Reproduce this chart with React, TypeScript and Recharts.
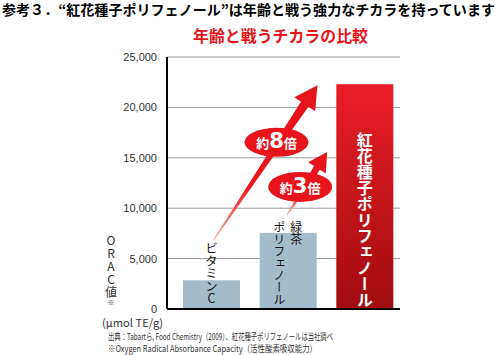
import React from 'react';
import { BarChart, Bar, XAxis, YAxis, CartesianGrid } from 'recharts';

const categories = ['ビタミンC', '緑茶ポリフェノール', '紅花種子ポリフェノール'];
const oracValues = [2850, 7550, 22300];
const yTicks = [0, 5000, 10000, 15000, 20000, 25000];
const ratioLabels = [
  { prefix: '約', num: '8', suffix: '倍' },
  { prefix: '約', num: '3', suffix: '倍' },
];
const titleText = '参考３．“紅花種子ポリフェノール”は年齢と戦う強力なチカラを持っています';
const subtitleText = '年齢と戦うチカラの比較';
const yLabelText = 'ORAC値';
const unitText = '(μmol TE/g)';
const sourceText = '出典：Tabartら, Food Chemistry（2009）、紅花種子ポリフェノールは当社調べ';
const noteText = '※Oxygen Radical Absorbance Capacity（活性酸素吸収能力）';

const data = categories.map((name, i) => ({ name, value: oracValues[i] }));

const JP = '"Noto Sans CJK JP", sans-serif';
const RED = '#e8141c';
const BLUE = '#a3bccb';

function arrowPoints(x0: number, y0: number, x1: number, y1: number, w0: number, w1: number, headLen: number, headHalf: number) {
  const dx = x1 - x0, dy = y1 - y0;
  const L = Math.hypot(dx, dy);
  const ux = dx / L, uy = dy / L;
  const nx = -uy, ny = ux;
  const bx = x1 - ux * headLen, by = y1 - uy * headLen;
  const pts = [
    [x0 + nx * w0, y0 + ny * w0],
    [bx + nx * w1, by + ny * w1],
    [bx + nx * headHalf, by + ny * headHalf],
    [x1, y1],
    [bx - nx * headHalf, by - ny * headHalf],
    [bx - nx * w1, by - ny * w1],
    [x0 - nx * w0, y0 - ny * w0],
  ];
  return pts.map((p) => p.join(',')).join(' ');
}

const Arrow = ({ id, x0, y0, x1, y1, w1, headLen, headHalf }: any) => (
  <g>
    <defs>
      <linearGradient id={id} gradientUnits="userSpaceOnUse" x1={x0} y1={y0} x2={x1} y2={y1}>
        <stop offset="0" stopColor="#f6b3a6" />
        <stop offset="0.35" stopColor={RED} />
        <stop offset="1" stopColor={RED} />
      </linearGradient>
    </defs>
    <polygon points={arrowPoints(x0, y0, x1, y1, 0.5, w1, headLen, headHalf)} fill={`url(#${id})`} />
  </g>
);

const RatioBadge = ({ cx, cy, rx, ry, label }: any) => (
  <g>
    <ellipse cx={cx} cy={cy} rx={rx} ry={ry} fill={RED} />
    <text x={cx} y={cy + 6} textAnchor="middle" fill="#fff" fontWeight="bold" fontFamily={JP}>
      <tspan fontSize={13}>{label.prefix}</tspan>
      <tspan fontSize={21} fontFamily='"DejaVu Sans", "Liberation Sans", sans-serif'>{label.num}</tspan>
      <tspan fontSize={13}>{label.suffix}</tspan>
    </text>
  </g>
);

const vertical: React.CSSProperties = { writingMode: 'vertical-rl' as any, textOrientation: 'upright' as any };

const BarShape = (props: any) => {
  const { x, y, width, height, index, payload } = props;
  const bottom = y + height;
  const ppu = height / payload.value;
  const cx = x + width / 2;
  if (index === 2) {
    return (
      <g>
        <rect x={x} y={y} width={width} height={height} fill="url(#redGrad)" />
        <text x={cx} y={y + 48} fill="#fff" fontSize={16} fontWeight="bold" fontFamily={JP} style={vertical}>
          {categories[2]}
        </text>
      </g>
    );
  }
  if (index === 0) {
    const tipY = bottom - oracValues[2] * ppu;
    const x0 = cx + 2, y0 = y - 40, x1 = cx + 106, y1 = tipY + 1;
    return (
      <g>
        <rect x={x} y={y} width={width} height={height} fill={BLUE} />
        <text x={cx} y={y - 38} fill="#111" fontSize={12.5} fontFamily={JP} style={vertical}>
          {categories[0]}
        </text>
        <Arrow id="arrow8" x0={x0} y0={y0} x1={x1} y1={y1} w1={4.5} headLen={23} headHalf={12.5} />
        <RatioBadge cx={cx + 65} cy={y - 138} rx={32} ry={14.5} label={ratioLabels[0]} />
      </g>
    );
  }
  // index 1
  const x0 = cx - 1, y0 = y - 18, x1 = cx + 39, y1 = y - 81;
  return (
    <g>
      <rect x={x} y={y} width={width} height={height} fill={BLUE} />
      <text x={cx + 8} y={y - 11} fill="#111" fontSize={12} fontFamily={JP} style={vertical}>緑茶</text>
      <text x={cx - 9} y={y - 11} fill="#111" fontSize={12} fontFamily={JP} style={vertical}>ポリフェノール</text>
      <Arrow id="arrow3" x0={x0} y0={y0} x1={x1} y1={y1} w1={3.5} headLen={19} headHalf={10.5} />
      <RatioBadge cx={cx + 12} cy={y - 46} rx={32} ry={15} label={ratioLabels[1]} />
    </g>
  );
};

export default function App() {
  return (
    <div style={{ position: 'absolute', left: 0, top: 0, width: 497, height: 355, background: '#fff' }}>
      <BarChart
        width={497}
        height={355}
        data={data}
        margin={{ top: 57, right: 97, bottom: 45, left: 107 }}
      >
        <defs>
          <linearGradient id="redGrad" x1="0" y1="0" x2="0" y2="1">
            <stop offset="0" stopColor="#ea1d26" />
            <stop offset="1" stopColor="#a00c10" />
          </linearGradient>
        </defs>
        <CartesianGrid vertical={false} stroke="#9a9a9a" />
        <XAxis
          dataKey="name"
          tick={false}
          tickLine={false}
          height={1}
          axisLine={{ stroke: '#000', strokeWidth: 2 }}
          padding={{ left: 6, right: -3 }}
        />
        <YAxis
          width={60}
          domain={[0, 25000]}
          ticks={yTicks}
          interval={0}
          tickLine={false}
          tickMargin={4}
          axisLine={{ stroke: '#000', strokeWidth: 2 }}
          tick={{ fontSize: 11, fill: '#333', fontFamily: '"Liberation Sans", Arial, sans-serif' }}
          tickFormatter={(v: number) => v.toLocaleString('en-US')}
        />
        <Bar dataKey="value" barSize={57} isAnimationActive={false} shape={BarShape} />
      </BarChart>
      <svg width={497} height={355} style={{ position: 'absolute', left: 0, top: 0, pointerEvents: 'none' }}>
        <text x={2} y={15} fontSize={14} fontWeight="bold" fill="#000" fontFamily={JP} textLength={493} lengthAdjust="spacingAndGlyphs">
          {titleText}
        </text>
        <text x={193} y={42} fontSize={16} fontWeight="bold" fill={RED} fontFamily={JP} textLength={175} lengthAdjust="spacingAndGlyphs">
          {subtitleText}
        </text>
        <text x={111} y={234} fontSize={12} fill="#333" fontFamily={JP} letterSpacing={1} style={vertical}>
          {yLabelText}
        </text>
        <text x={111} y={305} fontSize={7} fill="#333" fontFamily={JP} textAnchor="middle">※</text>
        <text x={102} y={327} fontSize={11} fill="#333" fontFamily={JP} textLength={61} lengthAdjust="spacingAndGlyphs">
          {unitText}
        </text>
        <text x={108} y={340} fontSize={9} fill="#333" fontFamily={JP} textLength={225} lengthAdjust="spacingAndGlyphs">
          {sourceText}
        </text>
        <text x={108} y={352} fontSize={9} fill="#333" fontFamily={JP} textLength={209} lengthAdjust="spacingAndGlyphs">
          {noteText}
        </text>
      </svg>
    </div>
  );
}
